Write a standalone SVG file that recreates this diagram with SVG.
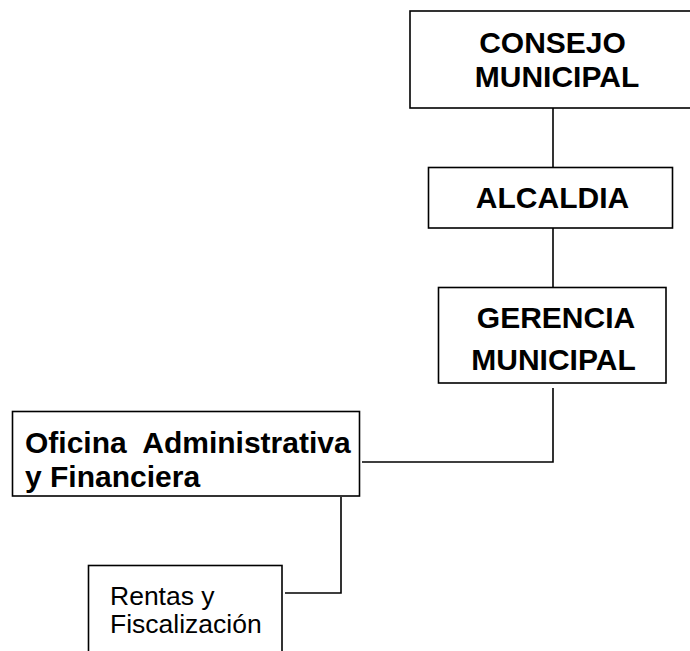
<svg xmlns="http://www.w3.org/2000/svg" width="690" height="651" viewBox="0 0 690 651">
<style>
.box{fill:#fff;stroke:#000;stroke-width:1.6}
.ln{fill:none;stroke:#000;stroke-width:1.6}
.b{font-family:"Liberation Sans",Arial,sans-serif;font-weight:bold;font-size:30px;fill:#000}
.r{font-family:"Liberation Sans",Arial,sans-serif;font-size:26.5px;fill:#000}
</style>
<rect width="690" height="651" fill="#fff"/>
<g id="connectors">
<line class="ln" x1="553" y1="108" x2="553" y2="167"/>
<line class="ln" x1="553" y1="228" x2="553" y2="287"/>
<polyline class="ln" points="553,388 553,462 362,462"/>
<polyline class="ln" points="341,497 341,593 285,593"/>
</g>
<g id="consejo">
<rect class="box" x="410" y="11" width="300" height="97"/>
<text class="b" x="552.5" y="53" text-anchor="middle">CONSEJO</text>
<text class="b" x="557" y="87" text-anchor="middle">MUNICIPAL</text>
</g>
<g id="alcaldia">
<rect class="box" x="428.5" y="167.5" width="244" height="60.5"/>
<text class="b" x="552.5" y="208" text-anchor="middle">ALCALDIA</text>
</g>
<g id="gerencia">
<rect class="box" x="438.5" y="287.5" width="227.5" height="95.5"/>
<text class="b" x="556" y="328" text-anchor="middle">GERENCIA</text>
<text class="b" x="553.5" y="370" text-anchor="middle">MUNICIPAL</text>
</g>
<g id="oficina">
<rect class="box" x="12.5" y="411.5" width="347" height="84.5"/>
<text class="b" x="25" y="453" xml:space="preserve">Oficina  Administrativa</text>
<text class="b" x="25" y="487">y Financiera</text>
</g>
<g id="rentas">
<rect class="box" x="88.5" y="565.5" width="193.5" height="120"/>
<text class="r" x="110" y="605">Rentas y</text>
<text class="r" x="110" y="633">Fiscalización</text>
</g>
</svg>
